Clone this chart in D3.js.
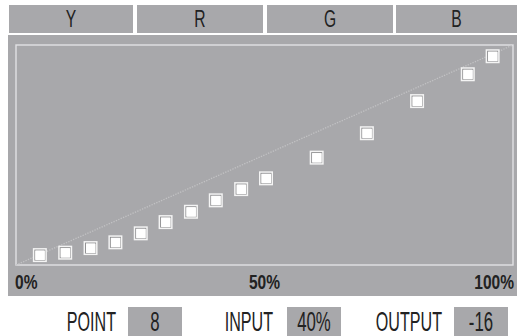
<!DOCTYPE html>
<html><head><meta charset="utf-8">
<script src="https://cdn.jsdelivr.net/npm/d3@7"></script>
<style>
html,body{margin:0;padding:0;background:#fff;}
svg{display:block;}
text{font-family:"Liberation Sans";fill:#222;}
</style></head>
<body><svg id="c" width="517" height="336"></svg>
<script>
const tabs = ["Y","R","G","B"];
const inputs = [4.8, 9.9, 15.0, 20.0, 25.1, 30.1, 35.2, 40.2, 45.3, 50.3, 60.5, 70.6, 80.7, 90.9, 95.9];
const outputs = [4.5, 5.6, 7.7, 10.3, 14.4, 19.5, 24.2, 29.4, 34.5, 39.4, 48.8, 59.9, 74.5, 86.7, 94.9];
const axisTicks = [0, 50, 100];
const infoLabels = ["POINT","INPUT","OUTPUT"];
const infoValues = ["8","40%","-16"];

const svg = d3.select("#c");
const gray = "#a8a8ab";

// tabs
const tabEdges = [[9,133],[137,263],[267,393],[396,517]];
svg.selectAll("rect.tab").data(tabs).join("rect")
  .attr("x",(d,i)=>tabEdges[i][0]).attr("y",5)
  .attr("width",(d,i)=>tabEdges[i][1]-tabEdges[i][0]).attr("height",28)
  .attr("fill",gray);
svg.selectAll("text.tab").data(tabs.map((t,i)=>({t,tx:(tabEdges[i][0]+tabEdges[i][1])/2,ty:27}))).join("text")
  .attr("transform",d=>`translate(${d.tx},${d.ty}) scale(0.68,1)`)
  .attr("text-anchor","middle").attr("font-size",23).text(d=>d.t);

// main panel
svg.append("rect").attr("x",8).attr("y",35).attr("width",509).attr("height",261).attr("fill",gray);

const x = d3.scaleLinear().domain([0,100]).range([16,513]);
const y = d3.scaleLinear().domain([0,100]).range([265,45]);

// frame
svg.append("rect").attr("x",x(0)).attr("y",y(100)).attr("width",x(100)-x(0)).attr("height",y(0)-y(100))
  .attr("fill","none").attr("stroke","#e2e2e4").attr("stroke-width",1.4);

// diagonal reference
svg.append("line").attr("x1",x(0)).attr("y1",y(0)).attr("x2",x(100)).attr("y2",y(100))
  .attr("stroke","#c2c2c4").attr("stroke-width",1.3).attr("stroke-dasharray","1.3,1.3");

// axis labels
svg.selectAll("text.ax").data(axisTicks).join("text")
  .attr("transform",d=>`translate(${d===0?x(d)-1:d===100?x(d)+1:x(d)},288.5) scale(0.74,1)`)
  .attr("text-anchor",d=>d===0?"start":d===100?"end":"middle")
  .attr("font-size",21).attr("font-weight","bold").text(d=>d+"%");

// markers
const pts = inputs.map((v,i)=>({x:v,y:outputs[i]}));
const g = svg.selectAll("g.pt").data(pts).join("g")
  .attr("transform",d=>`translate(${x(d.x)},${y(d.y)})`);
g.append("rect").attr("x",-7).attr("y",-7).attr("width",14).attr("height",14).attr("fill","#f4f4f4");
g.append("rect").attr("x",-5).attr("y",-5).attr("width",10).attr("height",10)
  .attr("fill","#ffffff").attr("stroke","#8e8e90").attr("stroke-width",1);
g.append("rect").attr("x",-4.5).attr("y",-4.5).attr("width",9.5).attr("height",9.5).attr("fill","#fff");

// info row
const labelRight = [116, 273, 442];
const boxX = [128, 287, 454];
svg.selectAll("text.lab").data(infoLabels).join("text")
  .attr("transform",(d,i)=>`translate(${labelRight[i]},331) scale(0.575,1)`)
  .attr("text-anchor","end").attr("font-size",28).text(d=>d);
svg.selectAll("rect.box").data(infoValues).join("rect")
  .attr("x",(d,i)=>boxX[i]).attr("y",307).attr("width",54).attr("height",30).attr("fill",gray);
svg.selectAll("text.val").data(infoValues).join("text")
  .attr("transform",(d,i)=>`translate(${boxX[i]+27},331) scale(0.6,1)`)
  .attr("text-anchor","middle").attr("font-size",28).text(d=>d);
</script></body></html>
